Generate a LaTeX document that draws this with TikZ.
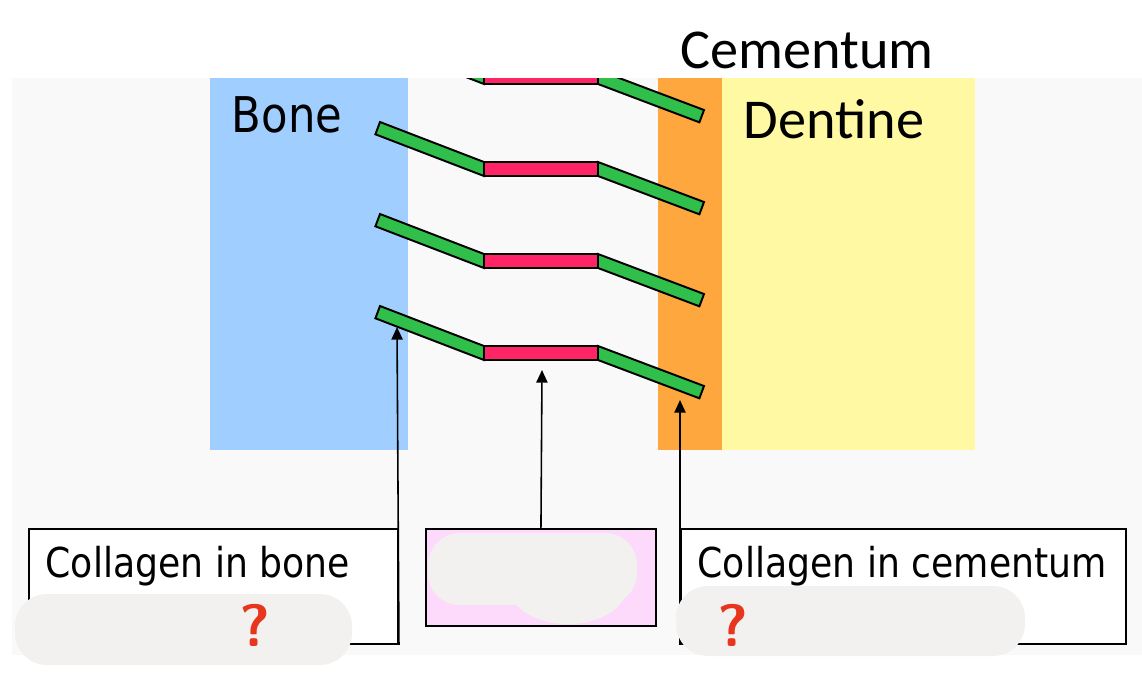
\documentclass[tikz,border=0pt]{standalone}
\usepackage{fontspec}
\setmainfont{Carlito}
\newfontfamily\narrowfont[FakeStretch=0.88]{DejaVu Sans}
\usetikzlibrary{arrows.meta, positioning}
\definecolor{panelgrey}{HTML}{F9F9F9}
\definecolor{bonecol}{HTML}{A0CFFF}
\definecolor{cemcol}{HTML}{FFA73F}
\definecolor{dentcol}{HTML}{FFF9A3}
\definecolor{fibregreen}{HTML}{2FBF4A}
\definecolor{linkpink}{HTML}{FF2466}
\definecolor{boxpink}{HTML}{FDD9FB}
\definecolor{smudgecol}{HTML}{F2F1EF}
\definecolor{askred}{HTML}{E8351E}
\tikzset{
    fibre/.style={draw=black, line width=0.55pt, line join=miter},
    pointer/.style={-{Triangle[length=3.6pt,width=3.2pt]}, line width=0.45pt},
    labelbox/.style={draw=black, line width=0.5pt, anchor=north west, inner sep=0pt},
    boxtext/.style={font=\narrowfont\fontsize{11.7}{12}\selectfont, inner sep=0pt, anchor=base west},
    tissue/.style={font=\fontsize{16}{16}\selectfont, inner sep=0pt, anchor=base},
    smudge/.style={fill=smudgecol, rounded corners=0.32cm},
    ask/.style={font=\sffamily\bfseries\fontsize{17}{17}\selectfont, text=askred, inner sep=0pt}
}
\begin{document}
\begin{tikzpicture}[x=0.01cm, y=-0.01cm]
    \useasboundingbox (0,0) rectangle (1142,690);
    \fill[panelgrey] (12,78) rectangle (1142,655);
    \fill[bonecol] (210,78) rectangle (408,450);
    \fill[cemcol] (658,78) rectangle (722,450);
    \fill[dentcol] (722,78) rectangle (975,450);
    \node[tissue] (cementum) at (807,68) {Cementum};
    \node[tissue] (dentine) at (834,138) {Dentine};
    \node[tissue, font=\narrowfont\fontsize{14}{14}\selectfont] (bone) at (287,132) {Bone};
    \begin{scope}
        \clip (12,78) rectangle (1142,655);
        \foreach \y in {77,169,261,353}{
            \draw[fibre, fill=fibregreen] (484,\y-7) -- (380,\y-47) -- (375.4,\y-34.7) -- (484,\y+7) -- cycle;
            \draw[fibre, fill=fibregreen] (598,\y-7) -- (704,\y+33) -- (699.4,\y+45.3) -- (598,\y+7) -- cycle;
            \draw[fibre, fill=linkpink] (484,\y-7) rectangle (598,\y+7);
        }
    \end{scope}
    \coordinate (boneTip) at (397,327);
    \coordinate (linkTip) at (542,370);
    \coordinate (cemTip) at (680,400);
    \node[labelbox, fill=white, minimum width=3.69cm, minimum height=1.15cm] (boneBox) at (28,528) {};
    \node[labelbox, fill=boxpink, minimum width=2.30cm, minimum height=0.97cm] (midBox) at (425,528) {};
    \node[labelbox, fill=white, minimum width=4.45cm, minimum height=1.15cm] (cemBox) at (680,528) {};
    \node[boxtext] (boneText) at (45,577) {Collagen in bone};
    \node[boxtext] (cemText) at (697,577) {Collagen in cementum};
    \draw[pointer] (boneBox.south east) -- (boneTip);
    \draw[pointer] (midBox.north) -- (linkTip);
    \draw[pointer] (cemBox.south west) -- (cemTip);
    \fill[smudge] (15,594) rectangle (352,665);
    \fill[smudge] (676,586) rectangle (1025,656);
    \fill[smudge] (428,533) rectangle (637,605);
    \fill[smudgecol] (568,585) ellipse [x radius=0.6cm, y radius=0.39cm];
    \node[ask] (askBone) at (255,625) {?};
    \node[ask] (askCem) at (733,625) {?};
\end{tikzpicture}
\end{document}
